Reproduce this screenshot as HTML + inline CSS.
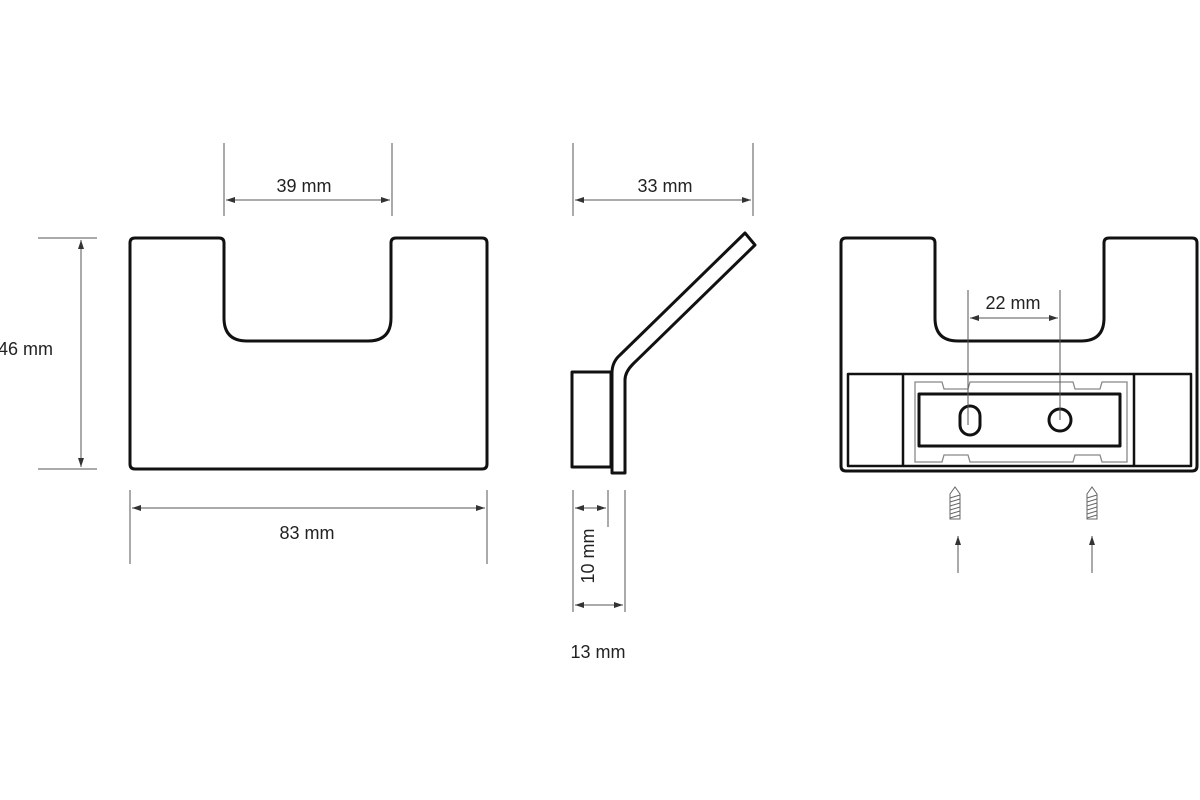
<!DOCTYPE html>
<html><head><meta charset="utf-8"><style>
html,body{margin:0;padding:0;background:#fff}
svg{display:block}
text{font-family:"Liberation Sans",sans-serif;font-size:18px;fill:#222}
</style></head><body>
<svg width="1200" height="800" viewBox="0 0 1200 800">
<defs>
<marker id="a" markerWidth="10" markerHeight="8" refX="9" refY="4" orient="auto-start-reverse" markerUnits="userSpaceOnUse"><path d="M0,1 L9,4 L0,7 Z" fill="#333"/></marker>
</defs>
<g fill="none" stroke="#111" stroke-width="3" stroke-linejoin="round">
<path d="M135,238 H219 Q224,238 224,243 V318 Q224,341 247,341 H368 Q391,341 391,318 V243 Q391,238 396,238 H482 Q487,238 487,243 V464 Q487,469 482,469 H135 Q130,469 130,464 V243 Q130,238 135,238 Z"/>
<rect x="572" y="372" width="39" height="95"/>
<path d="M612,473 V373 Q612,362 620,355 L745,233 L755,245 L633,364 Q625,372 625,380 V473 Z"/>
<path d="M846,238 H930 Q935,238 935,243 V318 Q935,341 958,341 H1081 Q1104,341 1104,318 V243 Q1104,238 1109,238 H1192 Q1197,238 1197,243 V466 Q1197,471 1192,471 H846 Q841,471 841,466 V243 Q841,238 846,238 Z"/>
<rect x="848" y="374" width="343" height="92" stroke-width="2.5"/>
<line x1="903" y1="374" x2="903" y2="466" stroke-width="2.5"/>
<line x1="1134" y1="374" x2="1134" y2="466" stroke-width="2.5"/>
<rect x="919" y="394" width="201" height="52"/>
<rect x="960" y="406" width="20" height="29" rx="10"/>
<circle cx="1060" cy="420" r="11"/>
</g>
<path d="M915,382 H942 L944,389 H968 L970,382 H1073 L1075,389 H1100 L1102,382 H1127 V462 H1102 L1100,455 H1075 L1073,462 H970 L968,455 H944 L942,462 H915 Z" fill="none" stroke="#888" stroke-width="1.3"/>
<g fill="none" stroke="#666" stroke-width="1">
<path d="M950,494 L955,487 L960,494 V519 H950 Z"/>
<path d="M950,498 L960,495 M950,502 L960,499 M950,506 L960,503 M950,510 L960,507 M950,514 L960,511 M950,518 L960,515"/>
<path d="M1087,494 L1092,487 L1097,494 V519 H1087 Z"/>
<path d="M1087,498 L1097,495 M1087,502 L1097,499 M1087,506 L1097,503 M1087,510 L1097,507 M1087,514 L1097,511 M1087,518 L1097,515"/>
</g>
<g stroke="#555" stroke-width="1" fill="none">
<line x1="224" y1="143" x2="224" y2="216"/><line x1="392" y1="143" x2="392" y2="216"/>
<line x1="226" y1="200" x2="390" y2="200" marker-start="url(#a)" marker-end="url(#a)"/>
<line x1="38" y1="238" x2="97" y2="238"/><line x1="38" y1="469" x2="97" y2="469"/>
<line x1="81" y1="240" x2="81" y2="467" marker-start="url(#a)" marker-end="url(#a)"/>
<line x1="130" y1="490" x2="130" y2="564"/><line x1="487" y1="490" x2="487" y2="564"/>
<line x1="132" y1="508" x2="485" y2="508" marker-start="url(#a)" marker-end="url(#a)"/>
<line x1="573" y1="143" x2="573" y2="216"/><line x1="753" y1="143" x2="753" y2="216"/>
<line x1="575" y1="200" x2="751" y2="200" marker-start="url(#a)" marker-end="url(#a)"/>
<line x1="573" y1="490" x2="573" y2="612"/><line x1="608" y1="490" x2="608" y2="527"/><line x1="625" y1="490" x2="625" y2="612"/>
<line x1="575" y1="508" x2="606" y2="508" marker-start="url(#a)" marker-end="url(#a)"/>
<line x1="575" y1="605" x2="623" y2="605" marker-start="url(#a)" marker-end="url(#a)"/>
<line x1="968" y1="290" x2="968" y2="425"/><line x1="1060" y1="290" x2="1060" y2="420"/>
<line x1="970" y1="318" x2="1058" y2="318" marker-start="url(#a)" marker-end="url(#a)"/>
<line x1="958" y1="573" x2="958" y2="536" marker-end="url(#a)"/>
<line x1="1092" y1="573" x2="1092" y2="536" marker-end="url(#a)"/>
</g>
<text x="304" y="192" text-anchor="middle">39 mm</text>
<text x="-2" y="355">46 mm</text>
<text x="307" y="539" text-anchor="middle">83 mm</text>
<text x="665" y="192" text-anchor="middle">33 mm</text>
<text x="598" y="658" text-anchor="middle">13 mm</text>
<text transform="translate(594,556) rotate(-90)" text-anchor="middle">10 mm</text>
<text x="1013" y="309" text-anchor="middle">22 mm</text>
</svg>
</body></html>
